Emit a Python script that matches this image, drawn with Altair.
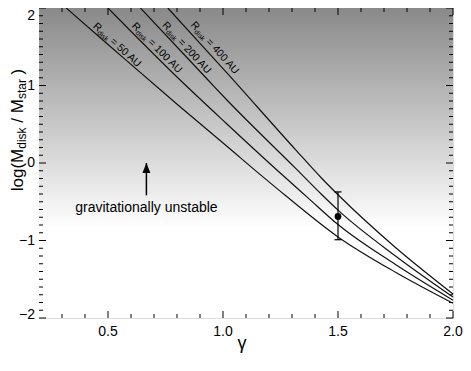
import altair as alt
import pandas as pd

# ---- curve data (gamma, log(Mdisk/Mstar)) ----
g50 = [0.318, 0.5, 0.803, 1.017, 1.166, 1.273, 1.5, 1.75, 2.0]
m50 = [2.0, 1.53, 0.752, 0.216, -0.16, -0.423, -0.954, -1.41, -1.81]
g100 = [0.500, 0.817, 1.017, 1.266, 1.366, 1.5, 1.75, 2.0]
m100 = [2.0, 1.061, 0.504, -0.175, -0.44, -0.794, -1.31, -1.77]
g200 = [0.641, 0.938, 1.017, 1.316, 1.43, 1.5, 1.75, 2.0]
m200 = [2.0, 1.061, 0.813, -0.07, -0.41, -0.608, -1.20, -1.73]
g400 = [0.760, 1.017, 1.316, 1.43, 1.5, 1.75, 2.0]
m400 = [2.0, 1.163, 0.17, -0.2, -0.41, -1.09, -1.69]

# measured point with error bar
pt_gamma = [1.5]
pt_val = [-0.69]
pt_lo = [-0.99]
pt_hi = [-0.373]

# curve labels
lab_g = [0.441, 0.610, 0.743, 0.867]
lab_y = [1.785, 1.789, 1.799, 1.804]
lab_ang = [42, 45, 47, 48]
lab_rest = ["= 50 AU", "= 100 AU", "= 200 AU", "= 400 AU"]

# arrow + annotation
arrow_g = [0.667]
arrow_tail = [-0.417]
arrow_tip = [0.0]
note_g = [0.667]
note_y = [-0.587]
note_text = ["gravitationally unstable"]

# ticks and tick labels
x_major = [0.5, 1.0, 1.5, 2.0]
x_labels = ["0.5", "1.0", "1.5", "2.0"]
x_minor = [round(0.2 + 0.1 * i, 1) for i in range(1, 18) if round(0.2 + 0.1 * i, 1) not in x_major]
y_major = [-2, -1, 0, 1, 2]
y_labels = ["\u22122", "\u22121", "0", "1", "2"]
y_minor = [round(-2 + 0.1 * i, 1) for i in range(1, 40) if (i % 10) != 0]

X_DOM = [0.2, 2.0]
Y_DOM = [-2.0, 2.0]
W, H = 414, 310
xs = alt.Scale(domain=X_DOM, nice=False, zero=False)
ys = alt.Scale(domain=Y_DOM, nice=False, zero=False)
FONT = "Liberation Sans"


def X(f):
    return alt.X(f, scale=xs, axis=None)


def Y(f):
    return alt.Y(f, scale=ys, axis=None)


curves = pd.DataFrame({
    "gamma": g50 + g100 + g200 + g400,
    "logm": m50 + m100 + m200 + m400,
    "R": ["50"] * len(g50) + ["100"] * len(g100) + ["200"] * len(g200) + ["400"] * len(g400),
})

bgdf = pd.DataFrame({"x0": [X_DOM[0]], "x1": [X_DOM[1]], "y0": [Y_DOM[1]], "y1": [Y_DOM[0]]})
bg = alt.Chart(bgdf).mark_rect(
    fill={"gradient": "linear", "x1": 0, "y1": 0, "x2": 0, "y2": 1,
          "stops": [{"offset": 0, "color": "#898989"},
                    {"offset": 0.71, "color": "#ffffff"},
                    {"offset": 1, "color": "#ffffff"}]},
    strokeWidth=0,
).encode(x=X("x0:Q"), x2="x1:Q", y=Y("y0:Q"), y2="y1:Q")

lines = alt.Chart(curves).mark_line(color="#111111", strokeWidth=1.2, interpolate="monotone").encode(
    x=X("gamma:Q"), y=Y("logm:Q"), detail="R:N")


def xticks(vals, ydat, off):
    return alt.Chart(pd.DataFrame({"v": vals})).mark_rule(color="black", strokeWidth=1, y2Offset=off).encode(
        x=X("v:Q"),
        y=alt.YDatum(ydat, type="quantitative", scale=ys, axis=None),
        y2=alt.Y2Datum(ydat),
    )


def yticks(vals, xdat, off):
    return alt.Chart(pd.DataFrame({"v": vals})).mark_rule(color="black", strokeWidth=1, x2Offset=off).encode(
        y=Y("v:Q"),
        x=alt.XDatum(xdat, type="quantitative", scale=xs, axis=None),
        x2=alt.X2Datum(xdat),
    )


ticks = [
    xticks(x_major, Y_DOM[0], -7), xticks(x_minor, Y_DOM[0], -4),
    xticks(x_major, Y_DOM[1], 7), xticks(x_minor, Y_DOM[1], 4),
    yticks(y_major, X_DOM[0], 7), yticks(y_minor, X_DOM[0], 4),
    yticks(y_major, X_DOM[1], -7), yticks(y_minor, X_DOM[1], -4),
]

# tick labels as text marks
xlab = alt.Chart(pd.DataFrame({"v": x_major, "t": x_labels})).mark_text(
    fontSize=14, baseline="top", align="center", dy=7, color="black", font=FONT).encode(
    x=X("v:Q"), y=alt.YDatum(Y_DOM[0], type="quantitative", scale=ys, axis=None), text="t:N")

ylabdf = pd.DataFrame({"v": y_major, "t": y_labels})


def ylab(sub, dy):
    return alt.Chart(sub).mark_text(fontSize=14, baseline="middle", align="right", dx=-4, dy=dy,
                                    color="black", font=FONT).encode(
        y=Y("v:Q"), x=alt.XDatum(X_DOM[0], type="quantitative", scale=xs, axis=None), text="t:N")


ylabs = [
    ylab(ylabdf[(ylabdf.v > Y_DOM[0]) & (ylabdf.v < Y_DOM[1])], 0),
    ylab(ylabdf[ylabdf.v == Y_DOM[1]], 8),
    ylab(ylabdf[ylabdf.v == Y_DOM[0]], -3),
]

one = pd.DataFrame({"a": [0]})
xtitle = alt.Chart(one).mark_text(text="γ", fontSize=18, baseline="middle", align="center",
                                  color="black", font=FONT).encode(
    x=alt.value(W / 2 - 4), y=alt.value(H + 26))

ptdf = pd.DataFrame({"g": pt_gamma, "m": pt_val, "lo": pt_lo, "hi": pt_hi})
ebar = alt.Chart(ptdf).mark_rule(color="black", strokeWidth=1.2).encode(x=X("g:Q"), y=Y("lo:Q"), y2="hi:Q")
cap_lo = alt.Chart(ptdf).mark_tick(color="black", orient="horizontal", size=7, thickness=1.2, opacity=1).encode(
    x=X("g:Q"), y=Y("lo:Q"))
cap_hi = alt.Chart(ptdf).mark_tick(color="black", orient="horizontal", size=7, thickness=1.2, opacity=1).encode(
    x=X("g:Q"), y=Y("hi:Q"))
dot = alt.Chart(ptdf).mark_point(filled=True, size=45, color="black", opacity=1).encode(
    x=X("g:Q"), y=Y("m:Q"))

ardf = pd.DataFrame({"g": arrow_g, "tail": arrow_tail, "tip": arrow_tip})
ashaft = alt.Chart(ardf).mark_rule(color="black", strokeWidth=1.5).encode(
    x=X("g:Q"), y=Y("tail:Q"), y2="tip:Q")
ahead = alt.Chart(ardf).mark_point(shape="M0,0L-0.8,2L0.8,2Z", filled=True, size=100, color="black",
                                   opacity=1, strokeWidth=0).encode(x=X("g:Q"), y=Y("tip:Q"))

notedf = pd.DataFrame({"g": note_g, "y": note_y, "t": note_text})
note = alt.Chart(notedf).mark_text(fontSize=14, align="center", baseline="middle", color="black",
                                   font=FONT).encode(x=X("g:Q"), y=Y("y:Q"), text="t:N")

labdf = pd.DataFrame({"g": lab_g, "y": lab_y, "ang": lab_ang, "rest": lab_rest})


def labpiece(text=None, field=None, size=10.5, dx=0, dy=0):
    kw = dict(fontSize=size, align="left", baseline="middle", color="black", font=FONT, dx=dx, dy=dy)
    if text is not None:
        kw["text"] = text
    enc = dict(x=X("g:Q"), y=Y("y:Q"), angle=alt.Angle("ang:Q", scale=None))
    if field is not None:
        enc["text"] = field
    return alt.Chart(labdf).mark_text(**kw).encode(**enc)


labels = [
    labpiece(text="R", size=10.5),
    labpiece(text="disk", size=7, dx=7.6, dy=3),
    labpiece(field="rest:N", size=10.5, dx=23),
]

# y-axis title pieces (rotated)
F, f = 17, 12
TLEN = 2.5 * F + 1.778 * f + 1.667 * F + 1.667 * f + 0.611 * F
TY = 122 + TLEN / 2  # bottom start of the title in plot pixels
TX = -21


def ytitle(text, size, dx, dy=0):
    return alt.Chart(one).mark_text(text=text, fontSize=size, angle=270, align="left", baseline="middle",
                                    color="black", font=FONT, dx=dx, dy=dy).encode(
        x=alt.value(TX), y=alt.value(TY))


ytit = [
    ytitle("log(M", F, 0),
    ytitle("disk", f, 2.5 * F, 3.5),
    ytitle("/ M", F, 2.5 * F + 1.778 * f + 0.278 * F),
    ytitle("star", f, 2.5 * F + 1.778 * f + 1.667 * F, 3.5),
    ytitle(")", F, 2.5 * F + 1.778 * f + 1.667 * F + 1.667 * f + 0.278 * F),
]

chart = alt.layer(bg, *ticks, lines, ebar, cap_lo, cap_hi, dot, ashaft, ahead, note, *labels,
                  xlab, *ylabs, xtitle, *ytit).properties(
    width=W, height=H,
    padding={"left": 31, "top": 0, "right": 10, "bottom": 36},
    autosize=alt.AutoSizeParams(type="none"),
).configure_view(stroke="black", strokeWidth=1.5).configure(font=FONT)

chart.save("out.html", embed_options={"renderer": "svg", "actions": False})
